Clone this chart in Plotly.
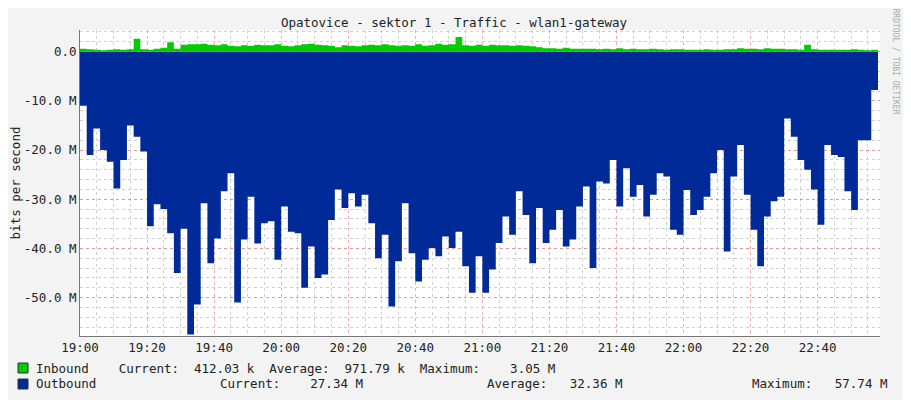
import pandas as pd
import plotly.graph_objects as go

# minutes after 19:00, one sample every 2 min
minutes = list(range(0, 240, 2))

# outbound (drawn negative), Mbit/s
outbound = [
    -11, -21, -15.6, -20, -22.4, -27.8, -22, -15, -17.3, -20.3, -35.5, -31, -32, -36.9, -45, -36,
    -57.5, -51.4, -30.8, -43, -38, -28.4, -24.7, -51, -38.2, -29.5, -39, -34.9, -34.5, -42.3, -31.5,
    -36.6, -36.9, -48, -39.6, -46, -45.3, -34.2, -28, -31.8, -28.8, -31.5, -29.1, -34.9, -42, -37.2,
    -51.8, -42.6, -30.8, -41, -46.7, -42.3, -39.9, -41.6, -37.6, -39.9, -36.6, -43.6, -49, -41.6, -49, -44.3,
    -38.9, -33.5, -37.2, -28.4, -33.2, -43, -31.8, -38.9, -36.2, -32.2, -39.6, -38.2, -31.5, -27.4, -44,
    -26.4, -26.8, -22, -31.5, -23.7, -29.5, -27.1, -33.5, -29.1, -24.7, -25.4, -36.2, -37.2, -28.1,
    -33.2, -32.2, -29.5, -24.7, -20, -40.6, -25.4, -19, -29.1, -36.2, -43.6, -33.5, -30.4, -29.5,
    -13.6, -17.3, -22, -24, -28, -35.2, -19, -21, -21.4, -28.4, -32.2, -18, -18, -7.8, -27.1,
]
inbound = [
    0.6, 0.5, 0.4, 0.3, 0.4, 0.5, 0.4, 0.5, 2.6, 0.5, 0.4, 0.6, 0.8, 1.9, 0.6, 1.4, 1.5, 1.5, 1.6, 1.4,
    1.3, 1.5, 1.2, 1.1, 1.3, 1.2, 1.4, 1.3, 1.3, 1.5, 1.2,
    1.1, 1.3, 1.5, 1.6, 1.4, 1.3, 1.2, 0.9, 1.3, 1.2, 1.1, 1.3, 1.4, 1.3, 1.5, 1.3, 1.2, 1.3, 1.2, 1.5,
    1.2, 1.3, 1.6, 1.4, 1.5, 3.0, 1.3, 1.2, 1.4, 1.2, 1.4,
    1.3, 1.3, 1.2, 1.3, 1.2, 1.1, 0.9, 0.7, 0.7, 0.6, 0.8, 0.6, 0.6, 0.6, 0.6, 0.5, 0.6, 0.5, 0.7, 0.5,
    0.6, 0.5, 0.5, 0.6, 0.5, 0.4, 0.5, 0.5, 0.4,
    0.4, 0.4, 0.5, 0.4, 0.4, 0.5, 0.5, 0.7, 0.6, 0.6, 0.5, 0.7, 0.6, 0.6, 0.5, 0.5, 0.4, 1.4, 0.5, 0.4,
    0.4, 0.4, 0.4, 0.4, 0.5, 0.4, 0.3, 0.4, 0.4,
]
y_ticks = [0, -10, -20, -30, -40, -50]
y_labels = ["0.0", "-10.0 M", "-20.0 M", "-30.0 M", "-40.0 M", "-50.0 M"]

t0 = pd.Timestamp("2020-01-01 19:00")
times = [t0 + pd.Timedelta(minutes=m) for m in minutes]
t_end = t0 + pd.Timedelta(minutes=238.6)

FONT = "DejaVu Sans Mono"
fig = go.Figure()
fig.add_trace(go.Scatter(x=times, y=outbound, mode="lines", line=dict(shape="hv", width=0, color="#002A97"),
                         fill="tozeroy", fillcolor="#002A97", showlegend=False))
fig.add_trace(go.Scatter(x=times, y=inbound, mode="lines", line=dict(shape="hv", width=0, color="#00CC00"),
                         fill="tozeroy", fillcolor="#00CC00", showlegend=False))

# page shows the figure 8 px in from the top-left, so size it to fill the window
fig.update_layout(
    width=903, height=392, margin=dict(l=72, r=31, t=22, b=64, autoexpand=False),
    paper_bgcolor="#F3F3F3", plot_bgcolor="white",
    font=dict(family=FONT, size=11, color="#333"),
    title=dict(text="Opatovice - sektor 1 - Traffic - wlan1-gateway", x=(454 - 8) / 903, y=0.975,
               yanchor="top", font=dict(family=FONT, size=12.5, color="#222")),
)
fig.update_xaxes(range=[t0, t_end], tickformat="%H:%M", dtick=20 * 60000, tick0=t0, automargin=False,
                 showgrid=True, gridcolor="rgba(230,120,120,0.6)", griddash="dot", gridwidth=1,
                 minor=dict(dtick=5 * 60000, showgrid=True, gridcolor="#D0D0D0", griddash="dot"),
                 showline=True, linecolor="#777", ticks="", layer="above traces",
                 tickfont=dict(size=12.5, color="#222"))
fig.update_yaxes(range=[-57.8, 4.4], tickvals=y_ticks, ticktext=y_labels, automargin=False,
                 showgrid=True, gridcolor="rgba(230,120,120,0.6)", griddash="dot",
                 minor=dict(dtick=2, showgrid=True, gridcolor="#D0D0D0", griddash="dot"),
                 zeroline=False, showline=True, linecolor="#777", ticks="", layer="above traces",
                 tickfont=dict(size=12.5, color="#222"),
                 title=dict(text="bits per second", font=dict(family=FONT, size=12.5, color="#222"), standoff=6))

# legend rows (positions in window pixels)
rows = [
    ("#00CC00", 368, [(34, "Inbound    Current:  412.03 k  Average:  971.79 k  Maximum:    3.05 M")]),
    ("#002A97", 384, [(34, "Outbound"), (218, "Current:    27.34 M"), (485, "Average:   32.36 M"),
                      (750, "Maximum:   57.74 M")]),
]
for color, py, texts in rows:
    fig.add_shape(type="rect", xref="paper", yref="paper",
                  x0=(18 - 80) / 800, x1=(28 - 80) / 800, y0=(336 - py - 5) / 306, y1=(336 - py + 5) / 306,
                  fillcolor=color, line=dict(color="#333", width=1))
    for px, txt in texts:
        fig.add_annotation(text=txt, xref="paper", yref="paper", x=(px - 80) / 800, y=(336 - py) / 306,
                           xanchor="left", yanchor="middle", showarrow=False,
                           font=dict(family=FONT, size=12.5, color="#222"))

fig.add_annotation(text="RRDTOOL / TOBI OETIKER", textangle=90, xref="paper", yref="paper",
                   x=(902 - 80) / 800, y=(336 - 6) / 306, yanchor="top", showarrow=False,
                   font=dict(family=FONT, size=8, color="#AAAAAA"))

fig.write_html("out.html")
